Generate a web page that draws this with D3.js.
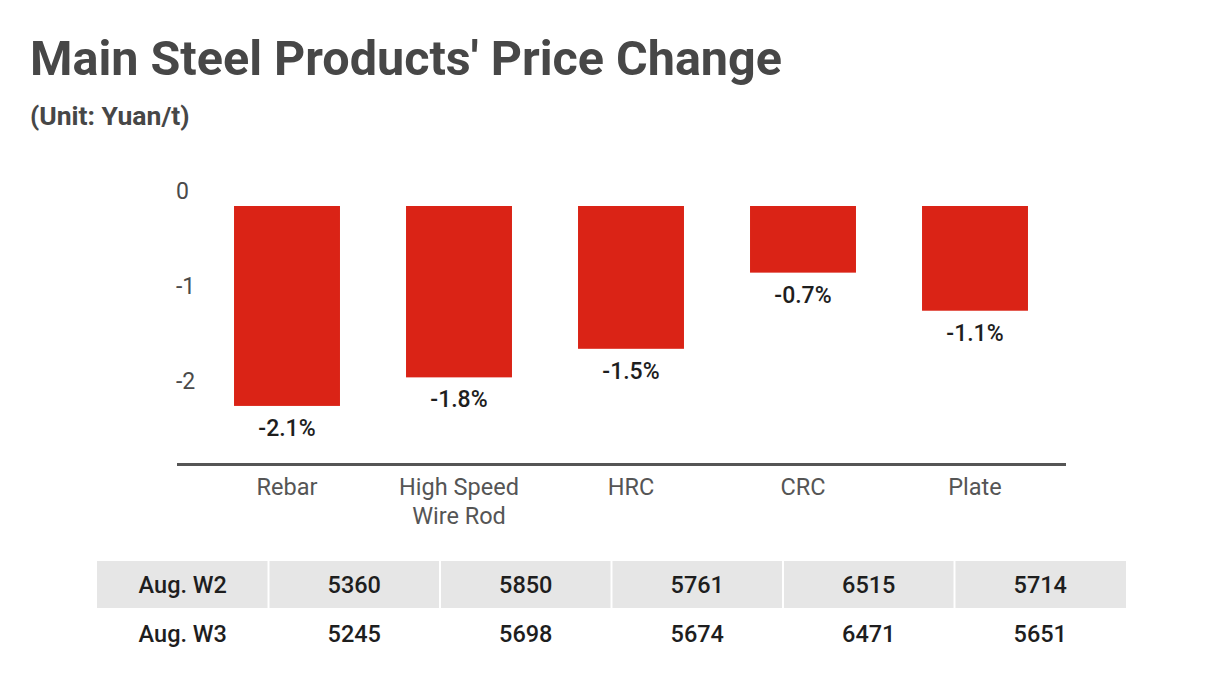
<!DOCTYPE html>
<html>
<head>
<meta charset="utf-8">
<script src="https://cdn.jsdelivr.net/npm/d3@7"></script>
<style>
  body { margin: 0; background: #fff; }
  svg { display: block; font-family: Roboto, "Noto Sans", sans-serif; }
</style>
</head>
<body>
<svg id="chart" width="1213" height="692"></svg>
<script>
// Data
const categories = ['Rebar', 'High Speed\nWire Rod', 'HRC', 'CRC', 'Plate'];
const changes = [-2.1, -1.8, -1.5, -0.7, -1.1];
const yTicks = [0, -1, -2];
const rowLabels = ['Aug. W2', 'Aug. W3'];
const pricesW2 = [5360, 5850, 5761, 6515, 5714];
const pricesW3 = [5245, 5698, 5674, 6471, 5651];

const svg = d3.select('#chart');

// Title block
svg.append('text')
  .attr('x', 30).attr('y', 75)
  .attr('fill', '#474747')
  .attr('font-size', 48.5).attr('font-weight', 700)
  .text("Main Steel Products' Price Change");

svg.append('text')
  .attr('x', 30).attr('y', 124.5)
  .attr('fill', '#474747')
  .attr('font-size', 26.5).attr('font-weight', 700)
  .text('(Unit: Yuan/t)');

// Scales
const x = d3.scaleBand()
  .domain(categories)
  .range([201, 1061])
  .paddingInner(0.384)
  .paddingOuter(0.192);

const y = d3.scaleLinear()
  .domain([0, -2.71])
  .range([206, 464]);

// Y tick labels (sit above their value)
svg.append('g').selectAll('text')
  .data(yTicks)
  .join('text')
  .attr('x', 176)
  .attr('y', d => y(d) - 15)
  .attr('dy', '0.35em')
  .attr('fill', '#4a4a4a')
  .attr('font-size', 23)
  .text(d => d);

// Bars
svg.append('g').selectAll('rect')
  .data(changes)
  .join('rect')
  .attr('x', (d, i) => x(categories[i]))
  .attr('width', x.bandwidth())
  .attr('y', y(0))
  .attr('height', d => y(d) - y(0))
  .attr('fill', '#da2316');

// Value labels
svg.append('g').selectAll('text')
  .data(changes)
  .join('text')
  .attr('x', (d, i) => x(categories[i]) + x.bandwidth() / 2)
  .attr('y', d => y(d) + 22)
  .attr('dy', '0.35em')
  .attr('text-anchor', 'middle')
  .attr('fill', '#1e1e1e')
  .attr('font-size', 23)
  .attr('font-weight', 500)
  .text(d => d.toFixed(1) + '%');

// Baseline
svg.append('line')
  .attr('x1', 177).attr('x2', 1066)
  .attr('y1', 464.5).attr('y2', 464.5)
  .attr('stroke', '#555')
  .attr('stroke-width', 3);

// Category labels
const catG = svg.append('g').selectAll('text')
  .data(categories)
  .join('text')
  .attr('x', d => x(d) + x.bandwidth() / 2)
  .attr('y', 487)
  .attr('text-anchor', 'middle')
  .attr('fill', '#555')
  .attr('font-size', 23.5);

catG.selectAll('tspan')
  .data(d => d.split('\n'))
  .join('tspan')
  .attr('x', function() { return d3.select(this.parentNode).attr('x'); })
  .attr('dy', (d, i) => i === 0 ? '0.35em' : 29)
  .text(d => d);

// Price table
const cols = d3.scaleBand()
  .domain(d3.range(6))
  .range([97, 1126]);

const rows = [
  { label: rowLabels[0], values: pricesW2, shaded: true, cy: 585 },
  { label: rowLabels[1], values: pricesW3, shaded: false, cy: 634 }
];

const rowG = svg.append('g').selectAll('g')
  .data(rows)
  .join('g');

rowG.filter(d => d.shaded)
  .selectAll('rect')
  .data(d3.range(6))
  .join('rect')
  .attr('x', i => cols(i) + (i === 0 ? 0 : 1))
  .attr('width', i => cols.bandwidth() - (i === 0 ? 1 : 2) + (i === 5 ? 1 : 0))
  .attr('y', 561)
  .attr('height', 47)
  .attr('fill', '#e6e6e6');

rowG.selectAll('text')
  .data(d => [d.label, ...d.values].map(v => ({ v, cy: d.cy })))
  .join('text')
  .attr('x', (d, i) => cols(i) + cols.bandwidth() / 2)
  .attr('y', d => d.cy)
  .attr('dy', '0.35em')
  .attr('text-anchor', 'middle')
  .attr('fill', '#1e1e1e')
  .attr('font-size', 23.5)
  .attr('font-weight', 500)
  .text(d => d.v);
</script>
</body>
</html>
